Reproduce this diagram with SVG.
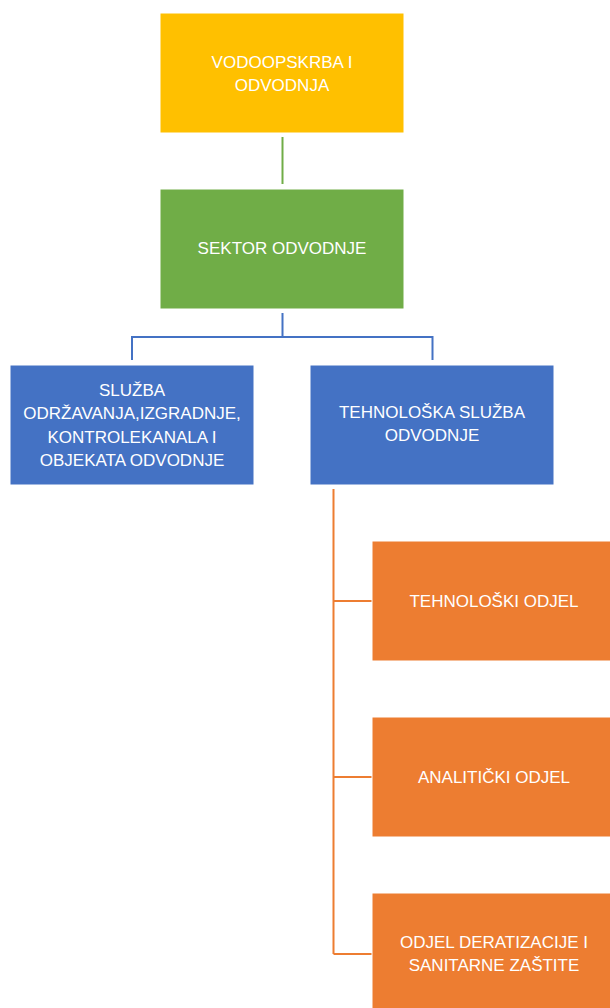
<svg xmlns="http://www.w3.org/2000/svg" width="610" height="1008" viewBox="0 0 610 1008">
<style>
.box{stroke:#ffffff;stroke-width:1}
.t{font-family:"Liberation Sans",Arial,sans-serif;font-size:17px;fill:#ffffff;text-anchor:middle}
.c{fill:none;stroke-width:2}
</style>
<rect width="610" height="1008" fill="#ffffff"/>
<g id="connectors">
<path class="c" stroke="#70AD47" d="M282.5,137 V184"/>
<path class="c" stroke="#4472C4" d="M282.5,313 V337 M132,360 V337 H432.5 V360"/>
<path class="c" stroke="#ED7D31" d="M333.5,489 V954 M333.5,601 H372 M333.5,777 H372 M333.5,954 H372"/>
</g>
<g id="n1"><rect class="box" x="160" y="13" width="244" height="120" fill="#FFC000"/>
<text class="t" x="282" y="67.5">VODOOPSKRBA I</text><text class="t" x="282" y="91">ODVODNJA</text></g>
<g id="n2"><rect class="box" x="160" y="189" width="244" height="120" fill="#70AD47"/>
<text class="t" x="282" y="254">SEKTOR ODVODNJE</text></g>
<g id="n3"><rect class="box" x="10" y="365" width="244" height="120" fill="#4472C4"/>
<text class="t" x="132" y="396">SLUŽBA</text><text class="t" x="132" y="419.3">ODRŽAVANJA,IZGRADNJE,</text><text class="t" x="132" y="442.7">KONTROLEKANALA I</text><text class="t" x="132" y="466">OBJEKATA ODVODNJE</text></g>
<g id="n4"><rect class="box" x="310" y="365" width="244" height="120" fill="#4472C4"/>
<text class="t" x="432" y="417.7">TEHNOLOŠKA SLUŽBA</text><text class="t" x="432" y="441">ODVODNJE</text></g>
<g id="n5"><rect class="box" x="372" y="541" width="244" height="120" fill="#ED7D31"/>
<text class="t" x="494" y="607">TEHNOLOŠKI ODJEL</text></g>
<g id="n6"><rect class="box" x="372" y="717" width="244" height="120" fill="#ED7D31"/>
<text class="t" x="494" y="783.3">ANALITIČKI ODJEL</text></g>
<g id="n7"><rect class="box" x="372" y="893" width="244" height="120" fill="#ED7D31"/>
<text class="t" x="494" y="948.3">ODJEL DERATIZACIJE I</text><text class="t" x="494" y="971">SANITARNE ZAŠTITE</text></g>
</svg>
